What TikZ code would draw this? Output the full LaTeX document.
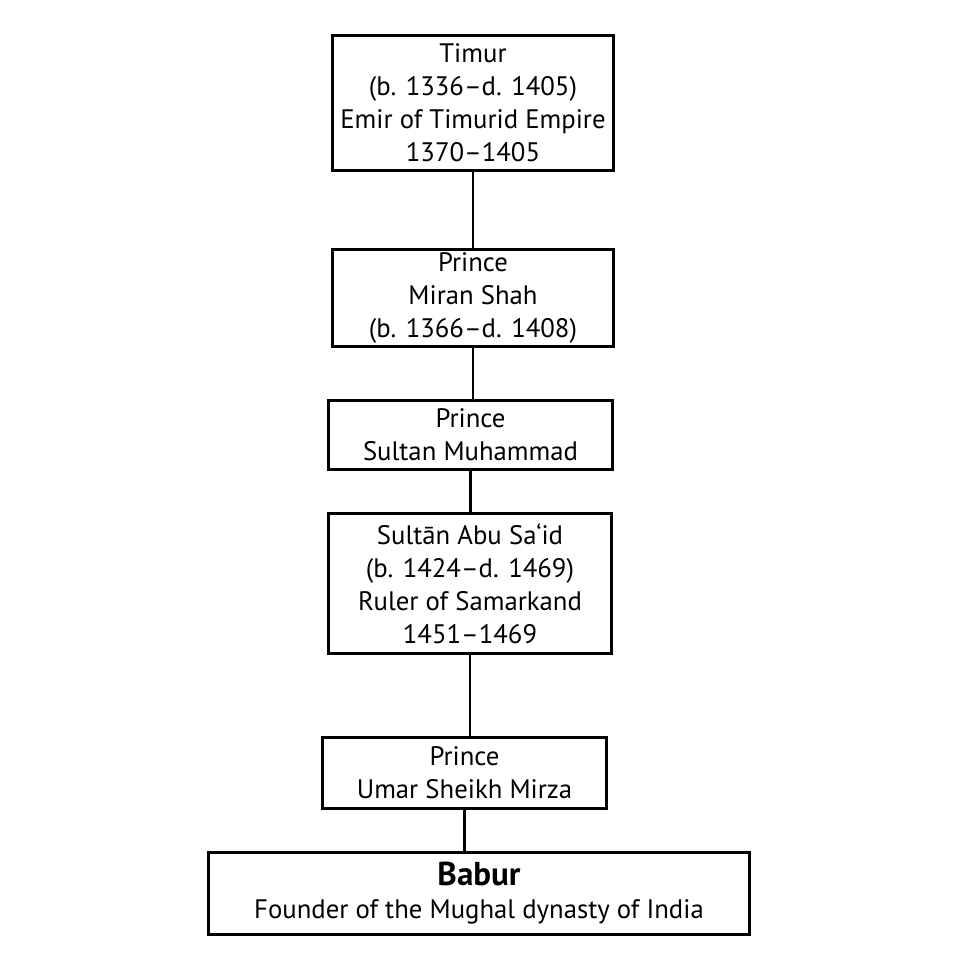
\documentclass[tikz,border=0pt]{standalone}
\usepackage{fontspec}
\setmainfont{PT Sans}
\usetikzlibrary{positioning}
\tikzset{
  person/.style={draw,line width=0.85pt,align=center,inner sep=0pt,
    font=\fontsize{7.6}{9.4}\selectfont},
  link/.style={line width=0.6pt}
}
\begin{document}
\begin{tikzpicture}[x=0.01cm,y=-0.01cm]
        \useasboundingbox (0,0) rectangle (960,960);

        % Особи родоводу
        \node[person,minimum width=2.80cm,minimum height=1.34cm] (timur) at (473,103)
          {Timur\\(b. 1336--d. 1405)\\Emir of Timurid Empire\\1370--1405};
        \node[person,minimum width=2.80cm,minimum height=0.96cm] (miran) at (473,298)
          {Prince\\Miran Shah\\(b. 1366--d. 1408)};
        \node[person,minimum width=2.83cm,minimum height=0.68cm] (muhammad) at (470.5,435)
          {Prince\\Sultan Muhammad};
        \node[person,minimum width=2.82cm,minimum height=1.39cm] (abusaid) at (470,583.5)
          {Sultān Abu Sa‘id\\(b. 1424--d. 1469)\\Ruler of Samarkand\\1451--1469};
        \node[person,minimum width=2.83cm,minimum height=0.70cm] (umar) at (464.5,773)
          {Prince\\Umar Sheikh Mirza};
        \node[person,minimum width=5.40cm,minimum height=0.81cm] (babur) at (479,893.5)
          {{\fontsize{9.4}{11}\selectfont\bfseries Babur}\\Founder of the Mughal dynasty of India};

        % Лінії спадкування
        \draw[link] (timur.south) -- (timur.south |- miran.north);
        \draw[link] (miran.south) -- (miran.south |- muhammad.north);
        \draw[link] (muhammad.south) -- (muhammad.south |- abusaid.north);
        \draw[link] (abusaid.south) -- (abusaid.south |- umar.north);
        \draw[link] (umar.south) -- (umar.south |- babur.north);

    \end{tikzpicture}
\end{document}
